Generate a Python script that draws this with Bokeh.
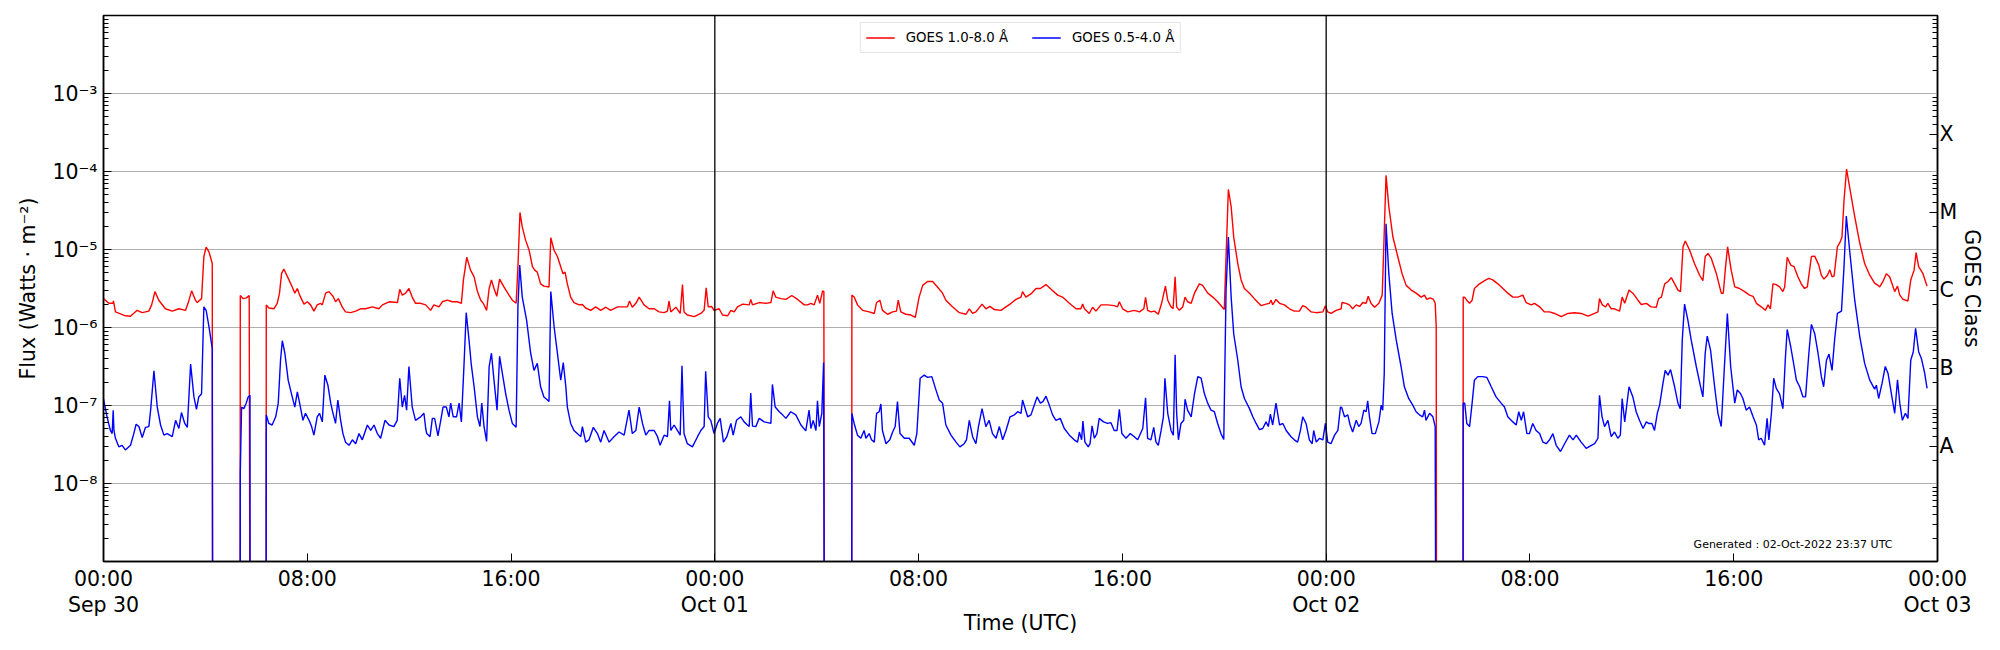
from bokeh.plotting import figure
from bokeh.models import Range1d, LogScale, LogAxis, FixedTicker, Span, Label
from bokeh.embed import file_html
from bokeh.resources import INLINE

# ---- data (time in hours since 2022-09-30 00:00 UTC; flux as log10 exponent, W m^-2) ----
# GOES 1.0-8.0 A (long channel); -12 marks data dropouts (flux 0)
xrsb_hours = [
    0.00, 0.21, 0.37, 0.39, 0.47, 0.86, 1.06, 1.32, 1.52, 1.78, 1.89, 2.02, 2.17, 2.43, 2.70, 2.96,
    3.22, 3.32, 3.46, 3.61, 3.68, 3.85, 3.94, 4.03, 4.14, 4.27, 4.29, 5.36, 5.37, 5.48, 5.61, 5.72,
    5.76, 6.38, 6.39, 6.49, 6.69, 6.82, 6.91, 6.99, 7.08, 7.28, 7.41, 7.51, 7.61, 7.70, 7.87, 8.00,
    8.13, 8.26, 8.39, 8.52, 8.59, 8.72, 8.85, 9.01, 9.11, 9.22, 9.37, 9.50, 9.70, 9.90, 10.09, 10.29,
    10.55, 10.81, 10.95, 11.21, 11.54, 11.63, 11.73, 11.86, 11.99, 12.12, 12.25, 12.45, 12.65,
    12.84, 12.97, 13.17, 13.30, 13.50, 13.69, 13.89, 14.05, 14.13, 14.26, 14.41, 14.55, 14.68, 14.81,
    14.91, 15.04, 15.14, 15.23, 15.33, 15.44, 15.55, 15.72, 15.92, 16.05, 16.20, 16.27, 16.35, 16.44,
    16.57, 16.71, 16.84, 16.93, 17.03, 17.16, 17.29, 17.49, 17.56, 17.69, 17.82, 17.95, 18.04, 18.12,
    18.21, 18.34, 18.47, 18.67, 18.80, 18.93, 19.13, 19.32, 19.52, 19.72, 19.91, 20.18, 20.37, 20.57,
    20.65, 20.76, 20.90, 21.03, 21.22, 21.42, 21.62, 21.81, 22.01, 22.14, 22.20, 22.27, 22.47, 22.64,
    22.73, 22.79, 22.92, 23.19, 23.45, 23.58, 23.66, 23.74, 23.87, 23.97, 24.17, 24.30, 24.50, 24.63,
    24.76, 24.89, 25.09, 25.35, 25.41, 25.48, 25.74, 26.00, 26.20, 26.29, 26.39, 26.59, 26.79, 27.02,
    27.25, 27.51, 27.64, 27.77, 27.90, 28.03, 28.12, 28.23, 28.28, 28.31, 29.37, 29.38, 29.47, 29.60,
    29.80, 30.06, 30.26, 30.35, 30.48, 30.58, 30.78, 30.98, 31.13, 31.20, 31.30, 31.50, 31.70, 31.87,
    32.02, 32.16, 32.35, 32.55, 32.74, 32.94, 33.07, 33.33, 33.60, 33.86, 33.99, 34.12, 34.25, 34.49,
    34.64, 34.80, 34.97, 35.23, 35.43, 35.63, 35.82, 36.02, 36.08, 36.21, 36.41, 36.61,
    36.78, 37.00, 37.20, 37.46, 37.65, 37.92, 38.18, 38.37, 38.44, 38.51, 38.70, 38.83, 38.96, 39.16,
    39.42, 39.68, 39.81, 39.88, 40.01, 40.21, 40.47, 40.67, 40.84, 40.91, 40.99, 41.12, 41.26, 41.41,
    41.54, 41.69, 41.78, 41.91, 41.99, 42.07, 42.13, 42.24, 42.37, 42.46, 42.56, 42.70, 42.83, 43.02,
    43.15, 43.35, 43.55, 43.74, 44.00, 44.07, 44.16, 44.27, 44.37, 44.53, 44.66, 44.79, 44.99, 45.18,
    45.45, 45.64, 45.77, 45.84, 45.90, 46.03, 46.17, 46.36, 46.56, 46.75, 46.95, 47.08, 47.21, 47.41,
    47.61, 47.87, 47.97, 48.06, 48.19, 48.39, 48.59,
    48.62, 48.78, 48.91, 49.04, 49.18, 49.31, 49.44, 49.57, 49.65, 49.76, 49.90, 50.07, 50.20, 50.25,
    50.35, 50.46, 50.62, 50.81, 50.98, 51.14, 51.34, 51.53, 51.73, 51.86, 51.95, 52.08, 52.21, 52.28,
    52.32, 52.34, 53.37, 53.38, 53.43, 53.52, 53.63, 53.73, 53.82, 54.02, 54.22, 54.39, 54.54, 54.74,
    54.94, 55.13, 55.33, 55.53, 55.72, 55.85, 56.05, 56.18, 56.38, 56.57, 56.77, 56.97, 57.23, 57.49,
    57.75, 58.01, 58.28, 58.54, 58.67, 58.73, 58.84, 58.97, 59.06, 59.19, 59.32, 59.52, 59.62, 59.72,
    59.89, 60.04, 60.24, 60.37, 60.57,
    60.76, 60.96, 61.05, 61.16, 61.29, 61.42, 61.55, 61.68, 61.81, 61.91, 62.01, 62.10, 62.27, 62.46,
    62.66, 62.79, 62.88, 62.99, 63.12, 63.32, 63.51, 63.59, 63.68, 63.76, 63.90, 64.04, 64.23, 64.43,
    64.62, 64.76, 64.89, 65.08, 65.24, 65.35, 65.44, 65.54, 65.67, 65.80, 65.93, 66.00, 66.10, 66.24,
    66.37, 66.52, 66.65, 66.78, 66.89, 67.05, 67.18, 67.34, 67.44, 67.54, 67.68, 67.77, 67.86, 67.94,
    68.07, 68.17, 68.25, 68.33, 68.43, 68.55, 68.75, 68.95, 69.14, 69.34, 69.53, 69.67, 69.73, 69.86,
    69.99, 70.12, 70.26, 70.32, 70.43, 70.52, 70.65, 70.84, 70.95, 71.08, 71.16, 71.26, 71.43, 71.59,
]
xrsb_exp = [
    -5.63, -5.69, -5.69, -5.66, -5.80, -5.85, -5.855, -5.78, -5.81, -5.79, -5.71, -5.54, -5.65, -5.76, -5.79, -5.76,
    -5.78, -5.69, -5.53, -5.65, -5.68, -5.63, -5.09, -4.97, -5.03, -5.18, -12, -12, -5.59, -5.63, -5.62, -5.59,
    -12, -12, -5.71, -5.75, -5.76, -5.69, -5.56, -5.31, -5.25, -5.39, -5.48, -5.56, -5.50, -5.585, -5.70, -5.67,
    -5.71, -5.79, -5.71, -5.69, -5.71, -5.56, -5.54, -5.60, -5.67, -5.63, -5.735, -5.80, -5.81, -5.79, -5.76, -5.76,
    -5.735, -5.76, -5.71, -5.67, -5.68, -5.51, -5.585, -5.56, -5.50, -5.61, -5.69, -5.69, -5.71,
    -5.78, -5.71, -5.735, -5.67, -5.65, -5.67, -5.67, -5.69, -5.39, -5.10, -5.265, -5.35, -5.54, -5.65,
    -5.69, -5.78, -5.50, -5.39, -5.50, -5.60, -5.38, -5.48, -5.585, -5.65, -5.69, -5.22, -4.525, -4.71,
    -4.88, -5.01, -5.22, -5.265, -5.29, -5.44, -5.47, -5.48, -4.85, -5.01, -5.09, -5.22, -5.31, -5.29,
    -5.44, -5.61, -5.68, -5.71, -5.705, -5.75, -5.78, -5.735, -5.78, -5.74, -5.78, -5.735, -5.735, -5.735,
    -5.66, -5.74, -5.69, -5.61, -5.71, -5.76, -5.76, -5.80, -5.81, -5.79, -5.66, -5.80, -5.74, -5.82,
    -5.45, -5.80, -5.84, -5.86, -5.82, -5.78, -5.49, -5.735, -5.73, -5.78, -5.76, -5.84, -5.85, -5.78,
    -5.80, -5.735, -5.70, -5.71, -5.64, -5.71, -5.68, -5.69, -5.68, -5.53, -5.61, -5.63, -5.64, -5.59,
    -5.64, -5.71, -5.71, -5.69, -5.71, -5.585, -5.69, -5.53, -5.54, -12, -12, -5.585, -5.61, -5.71,
    -5.78, -5.80, -5.82, -5.68, -5.65, -5.78, -5.83, -5.80, -5.79, -5.65, -5.80, -5.83, -5.84, -5.87,
    -5.61, -5.46, -5.41, -5.41, -5.48, -5.56, -5.65, -5.735, -5.81, -5.83, -5.76, -5.82, -5.80, -5.70,
    -5.76, -5.73, -5.77, -5.78, -5.735, -5.69, -5.64, -5.61, -5.54, -5.61, -5.57, -5.50,
    -5.50, -5.45, -5.51, -5.585, -5.61, -5.69, -5.76, -5.76, -5.70, -5.76, -5.82, -5.74, -5.79, -5.71,
    -5.71, -5.72, -5.735, -5.67, -5.76, -5.80, -5.78, -5.80, -5.76, -5.615, -5.78, -5.80, -5.79, -5.83,
    -5.69, -5.47, -5.65, -5.735, -5.76, -5.35, -5.735, -5.78, -5.735, -5.61, -5.67, -5.69, -5.56, -5.44,
    -5.46, -5.56, -5.61, -5.67, -5.77, -5.09, -4.23, -4.45, -4.84, -5.18, -5.39, -5.50, -5.56, -5.63,
    -5.72, -5.70, -5.69, -5.65, -5.71, -5.64, -5.69, -5.71, -5.76, -5.79, -5.79, -5.72, -5.74, -5.80,
    -5.81, -5.80, -5.72, -5.80, -5.82, -5.78, -5.76,
    -5.68, -5.69, -5.71, -5.76, -5.71, -5.73, -5.68, -5.69, -5.60, -5.69, -5.74, -5.69, -5.585, -5.09,
    -4.05, -4.45, -4.84, -5.09, -5.31, -5.46, -5.52, -5.56, -5.61, -5.585, -5.64, -5.62, -5.64, -5.69,
    -5.99, -12, -12, -5.61, -5.61, -5.65, -5.69, -5.65, -5.50, -5.44, -5.40, -5.37, -5.39, -5.44,
    -5.50, -5.56, -5.61, -5.61, -5.585, -5.68, -5.71, -5.69, -5.735, -5.80, -5.80, -5.82, -5.86, -5.82,
    -5.81, -5.82, -5.855, -5.82, -5.80, -5.63, -5.71, -5.735, -5.69, -5.76, -5.76, -5.79, -5.61, -5.69,
    -5.52, -5.56, -5.65, -5.705, -5.69,
    -5.735, -5.74, -5.63, -5.61, -5.44, -5.41, -5.36, -5.44, -5.52, -5.54, -4.965, -4.89, -5.01, -5.18,
    -5.33, -5.40, -5.09, -5.05, -5.115, -5.31, -5.56, -5.56, -5.22, -4.965, -5.265, -5.48, -5.50, -5.54,
    -5.585, -5.60, -5.69, -5.735, -5.78, -5.71, -5.76, -5.44, -5.45, -5.48, -5.54, -5.48, -5.10, -5.20,
    -5.22, -5.35, -5.44, -5.50, -5.48, -5.09, -5.085, -5.20, -5.33, -5.38, -5.33, -5.26, -5.35, -5.34,
    -4.965, -4.91, -4.84, -4.37, -3.97, -4.20, -4.58, -4.92, -5.18, -5.33, -5.43, -5.46, -5.48, -5.41,
    -5.31, -5.35, -5.48, -5.54, -5.47, -5.585, -5.64, -5.66, -5.39, -5.265, -5.04, -5.22, -5.31, -5.47,
]

# GOES 0.5-4.0 A (short channel)
xrsa_hours = [
    0.00, 0.14, 0.27, 0.34, 0.38, 0.41, 0.47, 0.60, 0.73, 0.86, 1.06, 1.19, 1.28, 1.39, 1.52, 1.65,
    1.78, 1.85, 1.98, 2.11, 2.24, 2.37, 2.50, 2.70, 2.83, 2.96, 3.06, 3.19, 3.29, 3.42, 3.55, 3.65,
    3.74, 3.85, 3.94, 4.03, 4.14, 4.27, 4.29, 5.36, 5.37, 5.42, 5.51, 5.60, 5.68, 5.75, 5.76, 6.38,
    6.39, 6.49, 6.62, 6.76, 6.86, 6.95, 7.02, 7.12, 7.25, 7.38, 7.51, 7.61, 7.70, 7.83, 7.93, 8.07,
    8.17, 8.26, 8.39, 8.48, 8.59, 8.69, 8.81, 8.92, 9.01, 9.11, 9.20, 9.31, 9.40, 9.50, 9.64, 9.77,
    9.90, 10.03, 10.16, 10.36, 10.49, 10.62, 10.75, 10.88, 11.05, 11.21, 11.40, 11.53, 11.63, 11.73,
    11.82, 11.90, 11.99, 12.12, 12.25, 12.45, 12.58, 12.65,
    12.69, 12.82, 12.91, 13.00, 13.13, 13.24, 13.33, 13.46, 13.56, 13.63, 13.73, 13.86, 13.96, 14.05,
    14.15, 14.24, 14.35, 14.44, 14.55, 14.68, 14.78, 14.85, 14.94, 15.04, 15.14, 15.23, 15.33, 15.45,
    15.55, 15.66, 15.79, 15.92, 16.05, 16.20, 16.27, 16.34, 16.44, 16.61, 16.77, 16.90, 17.03, 17.16,
    17.29, 17.43, 17.49, 17.56, 17.69, 17.82, 17.95, 18.05, 18.15, 18.21, 18.34, 18.47, 18.60, 18.74,
    18.80, 18.93, 19.06, 19.23, 19.39, 19.52, 19.65, 19.85, 20.04, 20.24, 20.44, 20.63, 20.76, 20.90,
    21.03, 21.16, 21.29, 21.42, 21.62, 21.75, 21.85, 22.01, 22.14, 22.22, 22.27, 22.40, 22.53, 22.64,
    22.71, 22.79, 22.92, 23.12, 23.32, 23.45, 23.58, 23.64, 23.74, 23.84, 23.97, 24.10, 24.21, 24.34,
    24.47, 24.63,
    24.72, 24.85, 25.02, 25.15, 25.28, 25.35, 25.41, 25.48, 25.61, 25.74, 25.94, 26.20, 26.26, 26.37,
    26.53, 26.66, 26.79, 26.98, 27.18, 27.38, 27.57, 27.70, 27.77, 27.86, 27.97, 28.03, 28.10, 28.20,
    28.27, 28.31, 29.37, 29.38, 29.47, 29.60, 29.73, 29.86, 29.93, 30.06, 30.15, 30.26, 30.35, 30.45,
    30.52, 30.58, 30.72, 30.87, 30.98, 31.08, 31.17, 31.27, 31.44, 31.63, 31.83, 31.93, 32.06, 32.22,
    32.35, 32.52, 32.68, 32.81, 32.94, 33.07, 33.27, 33.47, 33.62, 33.79, 33.88, 33.99, 34.12, 34.25,
    34.35, 34.49, 34.64, 34.77, 34.90, 35.04, 35.17, 35.30, 35.43, 35.59, 35.76, 35.89, 36.02, 36.08,
    36.28, 36.41, 36.61,
    36.65, 36.78, 36.88, 37.00, 37.13, 37.26, 37.39, 37.56, 37.72, 37.92, 38.11, 38.24, 38.31, 38.40,
    38.45, 38.53, 38.66, 38.73, 38.81, 38.90, 39.00, 39.09, 39.26, 39.42, 39.55, 39.68, 39.79, 39.88,
    39.98, 40.14, 40.31, 40.47, 40.60, 40.80, 40.91, 40.99, 41.12, 41.23, 41.32, 41.41, 41.52, 41.61,
    41.67, 41.78, 41.91, 42.00, 42.07, 42.13, 42.20, 42.30, 42.41, 42.46, 42.56, 42.70, 42.83, 42.96,
    43.09, 43.22, 43.35, 43.48, 43.61, 43.74, 43.87, 43.98, 44.07, 44.16, 44.27, 44.37, 44.53, 44.66,
    44.79, 44.99, 45.12, 45.25, 45.38, 45.51, 45.64, 45.73, 45.81, 45.90, 46.03, 46.17, 46.30, 46.43,
    46.62, 46.75, 46.88, 46.99, 47.08, 47.21, 47.34, 47.45, 47.51, 47.61, 47.74, 47.87, 47.97, 48.06,
    48.19, 48.33, 48.46, 48.56,
    48.61, 48.72, 48.85, 48.94, 49.04, 49.18, 49.28, 49.37, 49.48, 49.57, 49.63, 49.70, 49.80, 49.93,
    50.07, 50.16, 50.22, 50.28, 50.35, 50.46, 50.59, 50.75, 50.94, 51.07, 51.24, 51.40, 51.53, 51.66,
    51.79, 51.86, 51.92, 52.06, 52.19, 52.28, 52.32, 53.37, 53.38, 53.44, 53.52, 53.63, 53.73, 53.82,
    53.95, 54.15, 54.31, 54.48, 54.67, 54.87, 55.00, 55.13, 55.33, 55.46, 55.56, 55.66, 55.75, 55.88,
    55.98, 56.11, 56.24, 56.38, 56.51, 56.64, 56.77, 56.90, 57.03, 57.20, 57.36, 57.55, 57.69, 57.82,
    58.01, 58.21, 58.41, 58.54, 58.67, 58.73, 58.83, 58.93, 59.06, 59.19, 59.32, 59.45, 59.55, 59.62,
    59.72, 59.89, 60.04, 60.17, 60.30, 60.44, 60.57,
    60.66, 60.79, 60.89, 61.00, 61.09, 61.22, 61.31, 61.42, 61.52, 61.68, 61.81, 61.90, 61.98, 62.07,
    62.20, 62.33, 62.53, 62.70, 62.79, 62.88, 62.96, 63.09, 63.25, 63.38, 63.51, 63.62, 63.75, 63.88,
    64.04, 64.14, 64.27, 64.36, 64.49, 64.62, 64.76, 64.89, 64.98, 65.08, 65.21, 65.31, 65.38, 65.48,
    65.57, 65.67, 65.80, 65.93, 66.03, 66.10, 66.24, 66.33, 66.46, 66.59, 66.72, 66.82, 66.95, 67.05,
    67.18, 67.31, 67.44, 67.53, 67.64, 67.74, 67.86, 67.96, 68.07, 68.23, 68.33, 68.42, 68.55, 68.75,
    68.95, 69.14, 69.34, 69.53, 69.60, 69.69, 69.82, 69.95, 70.06, 70.19, 70.32, 70.43, 70.52, 70.62,
    70.74, 70.84, 70.95, 71.05, 71.14, 71.26, 71.37, 71.50, 71.59,
]
xrsa_exp = [
    -6.92, -7.145, -7.32, -7.36, -7.06, -7.32, -7.42, -7.53, -7.51, -7.57, -7.51, -7.36, -7.24, -7.27, -7.41, -7.28,
    -7.27, -7.06, -6.555, -7.02, -7.25, -7.38, -7.36, -7.40, -7.19, -7.295, -7.09, -7.23, -7.28, -6.47, -6.89, -7.05,
    -6.89, -6.85, -5.735, -5.78, -5.99, -6.27, -12, -12, -7.87, -7.02, -7.04, -6.97, -6.89, -6.87, -12, -12,
    -7.12, -7.23, -7.25, -7.145, -6.97, -6.42, -6.17, -6.33, -6.675, -6.85, -7.02, -6.825, -6.97, -7.19, -7.10, -7.19,
    -7.27, -7.38, -7.145, -7.10, -7.21, -6.61, -6.74, -6.97, -7.10, -7.23, -6.93, -7.19, -7.36, -7.47, -7.51, -7.44,
    -7.49, -7.36, -7.44, -7.25, -7.32, -7.25, -7.36, -7.42, -7.19, -7.25, -7.27, -7.19, -6.65, -7.02,
    -6.87, -7.06, -6.50, -7.02, -7.19, -7.145, -7.10, -7.295,
    -7.36, -7.40, -7.165, -7.165, -7.39, -7.19, -7.02, -7.02, -7.145, -6.97, -7.145, -7.145, -6.97, -7.21,
    -6.50, -5.81, -6.16, -6.48, -6.76, -7.145, -7.27, -6.97, -7.27, -7.46, -6.50, -6.33, -6.675, -7.06,
    -6.37, -6.59, -6.85, -7.06, -7.23, -7.28, -5.735, -5.20, -5.61, -5.905, -6.33, -6.55, -6.46, -6.76,
    -6.89, -6.93, -6.95, -5.54, -5.99, -6.33, -6.675, -6.45, -6.76, -7.02, -7.23, -7.32, -7.36, -7.40,
    -7.27, -7.47, -7.44, -7.28, -7.36, -7.47, -7.32, -7.47, -7.40, -7.34, -7.38, -7.06, -7.36, -7.32,
    -7.02, -7.23, -7.38, -7.32, -7.32, -7.40, -7.51, -7.38, -7.40, -6.94, -7.32, -7.25, -7.32, -7.38,
    -6.49, -7.36, -7.49, -7.53, -7.40, -7.32, -7.27, -6.56, -7.145, -7.19, -7.36, -7.23, -7.165, -7.47,
    -7.40, -7.23,
    -7.38, -7.19, -7.145, -7.21, -7.25, -7.27, -6.84, -7.265, -7.27, -7.165, -7.21, -7.23, -6.73, -7.02,
    -7.08, -7.12, -7.165, -7.08, -7.12, -7.25, -7.325, -7.06, -7.295, -7.19, -7.32, -6.94, -7.27, -7.10,
    -6.45, -12, -12, -7.10, -7.23, -7.38, -7.42, -7.32, -7.42, -7.36, -7.44, -7.47, -7.10, -7.08,
    -6.98, -7.32, -7.49, -7.44, -7.34, -7.27, -6.95, -7.36, -7.42, -7.42, -7.51, -7.36, -6.65, -6.61,
    -6.64, -6.63, -6.80, -6.93, -6.97, -7.25, -7.38, -7.47, -7.53, -7.49, -7.44, -7.19, -7.40, -7.49,
    -7.27, -7.04, -7.27, -7.19, -7.36, -7.42, -7.27, -7.44, -7.32, -7.145, -7.12, -7.08, -7.10, -6.93,
    -7.145, -7.12, -6.93,
    -6.89, -6.97, -6.95, -6.88, -6.995, -7.12, -7.19, -7.165, -7.295, -7.38, -7.44, -7.47, -7.34, -7.44,
    -7.20, -7.47, -7.53, -7.49, -7.26, -7.42, -7.36, -7.165, -7.21, -7.23, -7.22, -7.32, -7.32, -7.05,
    -7.36, -7.42, -7.36, -7.40, -7.44, -7.295, -6.90, -7.42, -7.44, -7.28, -7.47, -7.51, -7.32, -7.145,
    -6.65, -7.10, -7.32, -7.38, -6.35, -7.10, -7.44, -7.23, -7.19, -6.92, -7.06, -7.145, -6.85, -6.63,
    -6.65, -6.85, -6.97, -7.06, -7.08, -7.23, -7.36, -7.435, -5.52, -4.84, -5.61, -6.08, -6.42, -6.76,
    -6.91, -7.04, -7.145, -7.23, -7.31, -7.295, -7.21, -7.27, -7.11, -7.25, -6.97, -7.25, -7.23, -7.32,
    -7.40, -7.44, -7.47, -7.32, -7.145, -7.23, -7.44, -7.49, -7.32, -7.47, -7.42, -7.44, -7.23, -7.47,
    -7.49, -7.38, -7.32, -7.02,
    -7.025, -7.145, -7.12, -7.25, -7.34, -7.19, -7.27, -7.23, -7.06, -7.08, -6.94, -7.145, -7.36, -7.36,
    -7.21, -6.995, -7.06, -6.59, -4.67, -5.31, -5.82, -6.16, -6.50, -6.76, -6.91, -6.995, -7.08, -7.12,
    -7.145, -7.06, -7.19, -7.10, -7.145, -7.27, -12, -12, -6.97, -6.97, -7.23, -7.27, -6.97, -6.675,
    -6.63, -6.63, -6.64, -6.76, -6.89, -6.97, -7.02, -7.145, -7.21, -7.25, -7.08, -7.19, -7.08, -7.36,
    -7.36, -7.23, -7.32, -7.36, -7.47, -7.49, -7.44, -7.36, -7.51, -7.59, -7.49, -7.38, -7.44, -7.38,
    -7.47, -7.55, -7.51, -7.49, -7.42, -6.87, -7.145, -7.27, -7.19, -7.40, -7.34, -7.42, -7.38, -6.91,
    -7.21, -6.76, -6.89, -7.08, -7.19, -7.295, -7.21,
    -7.23, -7.23, -7.32, -7.10, -6.995, -6.72, -6.55, -6.61, -6.54, -6.76, -6.97, -7.04, -6.16, -5.70,
    -5.905, -6.16, -6.50, -6.76, -6.89, -6.33, -6.11, -6.29, -6.76, -7.10, -7.27, -6.59, -5.82, -6.50,
    -6.97, -6.80, -6.85, -6.91, -7.06, -7.02, -7.145, -7.25, -7.44, -7.42, -7.51, -7.165, -7.44, -7.10,
    -6.65, -6.78, -6.85, -7.04, -6.38, -6.025, -6.25, -6.42, -6.675, -6.76, -6.89, -6.89, -6.33, -5.96,
    -6.08, -6.33, -6.63, -6.76, -6.42, -6.34, -6.55, -6.16, -5.82, -5.79, -5.22, -4.57, -5.01, -5.65,
    -6.12, -6.46, -6.675, -6.79, -6.74, -6.91, -6.72, -6.50, -6.59, -6.85, -7.10, -6.67, -6.97, -7.19,
    -7.10, -7.165, -6.42, -6.31, -6.01, -6.31, -6.40, -6.59, -6.78,
]

xrsb_flux = [10.0 ** e for e in xrsb_exp]
xrsa_flux = [10.0 ** e for e in xrsa_exp]

time_ticks = [0, 8, 16, 24, 32, 40, 48, 56, 64, 72]
time_labels = ["00:00\nSep 30", "08:00", "16:00", "00:00\nOct 01", "08:00", "16:00",
               "00:00\nOct 02", "08:00", "16:00", "00:00\nOct 03"]
flux_ticks = [1e-8, 1e-7, 1e-6, 1e-5, 1e-4, 1e-3]
flux_labels = ["10\u207b\u2078", "10\u207b\u2077", "10\u207b\u2076", "10\u207b\u2075", "10\u207b\u2074", "10\u207b\u00b3"]
class_ticks = [3e-8, 3e-7, 3e-6, 3e-5, 3e-4]
class_labels = ["A", "B", "C", "M", "X"]
day_boundaries = [24, 48]
minor_flux_ticks = [k * 10.0 ** n for n in range(-9, -2) for k in range(2, 10)]

FONT = "DejaVu Sans"

p = figure(width=1992, height=642, y_axis_type="log",
           x_range=Range1d(0, 72), y_range=Range1d(1e-9, 1e-2),
           output_backend="svg", toolbar_location=None,
           min_border_left=103, min_border_right=55, min_border_top=15, min_border_bottom=81)
p.background_fill_color = "white"
p.border_fill_color = "white"
p.outline_line_color = "black"
p.outline_line_width = 1.5

p.line(xrsb_hours, xrsb_flux, line_color="red", line_width=1.4, legend_label="GOES 1.0-8.0 \u00c5")
p.line(xrsa_hours, xrsa_flux, line_color="blue", line_width=1.4, legend_label="GOES 0.5-4.0 \u00c5")

for d in day_boundaries:
    p.add_layout(Span(location=d, dimension="height", line_color="black", line_width=1.3))

# x axis
xa = p.xaxis[0]
xa.ticker = FixedTicker(ticks=time_ticks, minor_ticks=[])
xa.major_label_overrides = dict(zip(time_ticks, time_labels))
xa.axis_label = "Time (UTC)"

# left axis
ya = p.yaxis[0]
ya.ticker = FixedTicker(ticks=flux_ticks, minor_ticks=minor_flux_ticks)
ya.major_label_overrides = dict(zip(flux_ticks, flux_labels))
ya.axis_label = "Flux (Watts \u00b7 m\u207b\u00b2)"

# right axis (GOES class)
p.extra_y_ranges = {"goes": Range1d(1e-9, 1e-2)}
p.extra_y_scales = {"goes": LogScale()}
ra = LogAxis(y_range_name="goes", ticker=FixedTicker(ticks=class_ticks, minor_ticks=minor_flux_ticks))
ra.major_label_overrides = dict(zip(class_ticks, class_labels))
ra.axis_label = "GOES Class"
p.add_layout(ra, "right")

for ax in [xa, ya, ra]:
    ax.axis_line_color = "black"
    ax.axis_line_width = 1.5
    ax.major_tick_in = 8
    ax.major_tick_out = 0
    ax.minor_tick_in = 5
    ax.minor_tick_out = 0
    ax.major_tick_line_color = "black"
    ax.minor_tick_line_color = "black"
    ax.major_label_text_font = FONT
    ax.major_label_text_font_size = "20.5px"
    ax.major_label_text_color = "black"
    ax.axis_label_text_font = FONT
    ax.axis_label_text_font_size = "20.5px"
    ax.axis_label_text_font_style = "normal"
    ax.axis_label_text_color = "black"
xa.major_label_standoff = 5
xa.major_label_text_line_height = 1.1
xa.axis_label_standoff = -9
ya.major_label_standoff = 6
ya.axis_label_standoff = 9
ra.major_label_standoff = 2
ra.axis_label_standoff = 0

p.xgrid.visible = False
p.ygrid.grid_line_color = "#b0b0b0"
p.ygrid.grid_line_width = 1

lg = p.legend[0]
lg.location = "top_center"
lg.orientation = "horizontal"
lg.label_text_font = FONT
lg.label_text_font_size = "13.3px"
lg.label_text_color = "black"
lg.glyph_width = 29
lg.glyph_height = 19
lg.label_height = 19
lg.label_standoff = 11
lg.spacing = 24
lg.padding = 5
lg.margin = 7
lg.border_line_color = "#cccccc"
lg.border_line_width = 1
lg.background_fill_alpha = 0.8

p.add_layout(Label(x=70.23, y=1.66e-9, text="Generated : 02-Oct-2022 23:37 UTC",
                   text_align="right", text_baseline="middle",
                   text_font=FONT, text_font_size="11px", text_color="black"))

open("out.html", "w").write(file_html(p, INLINE))
